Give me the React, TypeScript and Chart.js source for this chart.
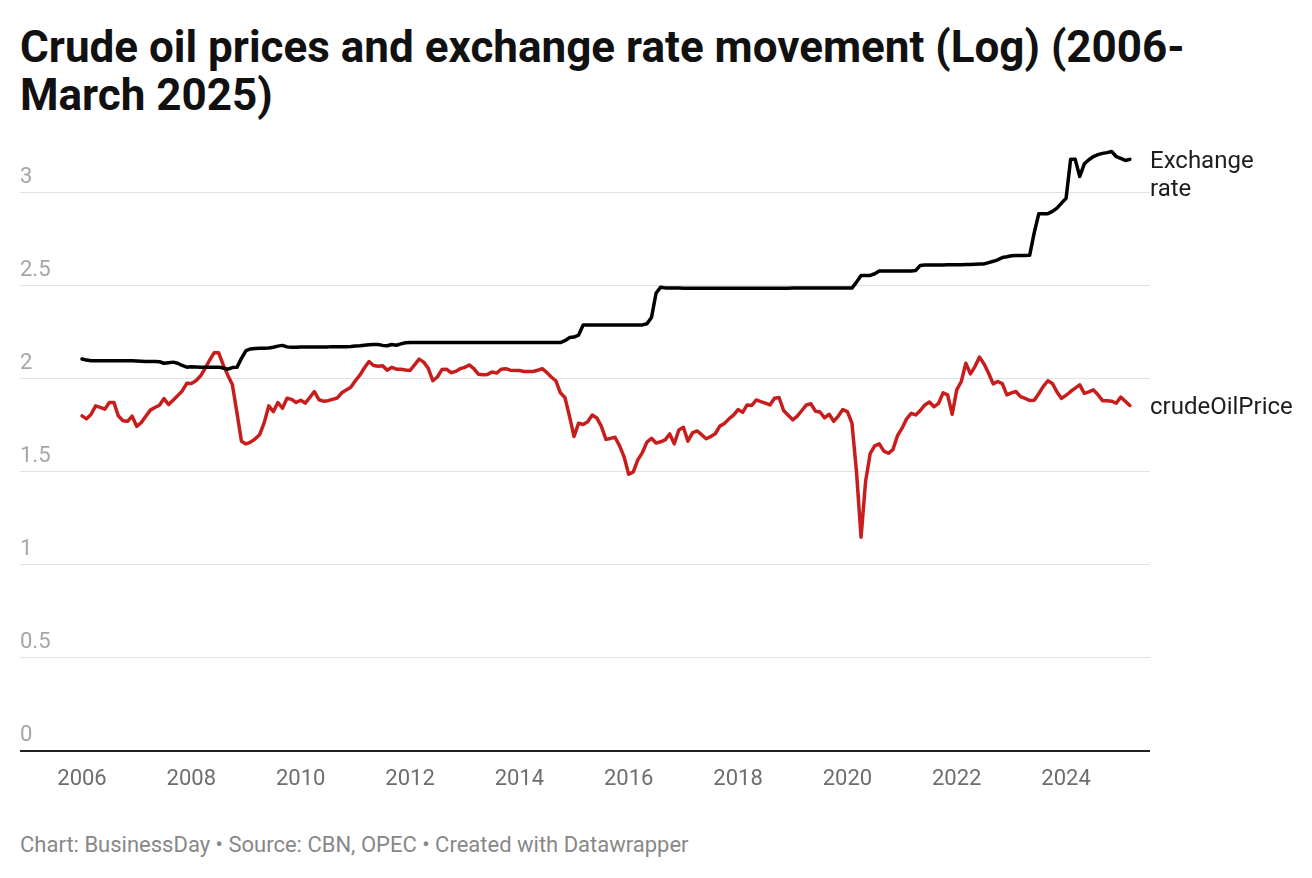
import React, { useEffect, useRef } from "react";
import { Chart, registerables } from "chart.js";

Chart.register(...registerables);

// ---- data -------------------------------------------------------------
const startYear = 2006; // first month: January 2006, monthly through March 2025
const xTickYears = [2006, 2008, 2010, 2012, 2014, 2016, 2018, 2020, 2022, 2024];
const yTickValues = [0, 0.5, 1, 1.5, 2, 2.5, 3];
const seriesNames = ["Exchange rate", "crudeOilPrice"];
const endLabelLines = [["Exchange", "rate"], ["crudeOilPrice"]];

// log10 of NGN/USD exchange rate, monthly
const exchangeRate = [
  2.107, 2.101, 2.098, 2.097, 2.097, 2.097, 2.097, 2.097, 2.097, 2.097, 2.097, 2.097, // 2006
  2.096, 2.095, 2.094, 2.094, 2.093, 2.092, 2.084, 2.087, 2.09, 2.084, 2.072, 2.063, // 2007
  2.065, 2.064, 2.063, 2.063, 2.063, 2.063, 2.063, 2.058, 2.052, 2.061, 2.062, 2.11, // 2008
  2.152, 2.161, 2.163, 2.164, 2.165, 2.166, 2.17, 2.176, 2.18, 2.172, 2.17, 2.17, // 2009
  2.171, 2.171, 2.171, 2.172, 2.172, 2.172, 2.172, 2.173, 2.173, 2.173, 2.173, 2.174, // 2010
  2.177, 2.178, 2.181, 2.184, 2.185, 2.185, 2.18, 2.178, 2.185, 2.181, 2.188, 2.194, // 2011
  2.195, 2.195, 2.195, 2.195, 2.195, 2.195, 2.195, 2.195, 2.195, 2.195, 2.195, 2.195, // 2012
  2.195, 2.195, 2.195, 2.195, 2.195, 2.195, 2.195, 2.195, 2.195, 2.195, 2.195, 2.195, // 2013
  2.195, 2.195, 2.195, 2.195, 2.195, 2.195, 2.195, 2.195, 2.195, 2.195, 2.205, 2.222, // 2014
  2.225, 2.235, 2.29, 2.29, 2.29, 2.29, 2.29, 2.29, 2.29, 2.29, 2.29, 2.29, // 2015
  2.29, 2.29, 2.29, 2.29, 2.296, 2.33, 2.46, 2.493, 2.489, 2.488, 2.488, 2.488, // 2016
  2.487, 2.487, 2.487, 2.487, 2.487, 2.487, 2.487, 2.487, 2.487, 2.487, 2.487, 2.487, // 2017
  2.487, 2.487, 2.487, 2.487, 2.487, 2.487, 2.487, 2.487, 2.487, 2.487, 2.487, 2.487, // 2018
  2.488, 2.488, 2.488, 2.488, 2.488, 2.488, 2.488, 2.488, 2.488, 2.488, 2.488, 2.488, // 2019
  2.488, 2.488, 2.52, 2.556, 2.556, 2.556, 2.565, 2.58, 2.58, 2.58, 2.58, 2.58, // 2020
  2.58, 2.58, 2.58, 2.583, 2.61, 2.612, 2.612, 2.612, 2.612, 2.612, 2.613, 2.613, // 2021
  2.614, 2.614, 2.615, 2.615, 2.616, 2.617, 2.618, 2.625, 2.632, 2.64, 2.652, 2.656, // 2022
  2.662, 2.663, 2.663, 2.663, 2.664, 2.785, 2.887, 2.887, 2.888, 2.9, 2.918, 2.945, // 2023
  2.97, 3.18, 3.18, 3.088, 3.156, 3.178, 3.195, 3.205, 3.212, 3.216, 3.222, 3.195, // 2024
  3.185, 3.174, 3.18, // 2025
];

// log10 of crude oil price (USD/barrel), monthly
const crudeOilPrice = [
  1.801, 1.785, 1.81, 1.855, 1.847, 1.837, 1.873, 1.873, 1.8, 1.775, 1.772, 1.8, // 2006
  1.745, 1.765, 1.799, 1.832, 1.846, 1.858, 1.894, 1.862, 1.885, 1.91, 1.935, 1.976, // 2007
  1.975, 1.99, 2.015, 2.055, 2.1, 2.14, 2.14, 2.075, 2.02, 1.97, 1.82, 1.665, // 2008
  1.65, 1.66, 1.678, 1.7, 1.765, 1.855, 1.824, 1.873, 1.842, 1.896, 1.89, 1.873, // 2009
  1.885, 1.87, 1.9, 1.932, 1.888, 1.88, 1.883, 1.89, 1.897, 1.925, 1.94, 1.955, // 2010
  1.99, 2.02, 2.06, 2.093, 2.072, 2.068, 2.07, 2.047, 2.062, 2.052, 2.052, 2.048, // 2011
  2.045, 2.075, 2.106, 2.09, 2.057, 1.99, 2.01, 2.05, 2.052, 2.033, 2.04, 2.055, // 2012
  2.062, 2.075, 2.055, 2.025, 2.022, 2.024, 2.037, 2.031, 2.052, 2.055, 2.047, 2.045, // 2013
  2.045, 2.04, 2.039, 2.04, 2.046, 2.055, 2.035, 2.01, 1.99, 1.925, 1.9, 1.8, // 2014
  1.69, 1.762, 1.755, 1.77, 1.806, 1.79, 1.745, 1.675, 1.68, 1.686, 1.64, 1.58, // 2015
  1.487, 1.5, 1.565, 1.604, 1.66, 1.681, 1.655, 1.662, 1.672, 1.704, 1.651, 1.725, // 2016
  1.74, 1.665, 1.71, 1.72, 1.7, 1.678, 1.69, 1.705, 1.746, 1.76, 1.785, 1.805, // 2017
  1.835, 1.82, 1.86, 1.857, 1.887, 1.878, 1.87, 1.86, 1.896, 1.9, 1.83, 1.805, // 2018
  1.78, 1.8, 1.83, 1.86, 1.866, 1.826, 1.822, 1.79, 1.81, 1.772, 1.8, 1.835, // 2019
  1.824, 1.762, 1.5, 1.149, 1.45, 1.598, 1.64, 1.651, 1.612, 1.6, 1.62, 1.695, // 2020
  1.735, 1.785, 1.815, 1.806, 1.83, 1.86, 1.876, 1.85, 1.868, 1.925, 1.914, 1.81, // 2021
  1.941, 1.986, 2.084, 2.027, 2.066, 2.117, 2.08, 2.03, 1.973, 1.986, 1.975, 1.914, // 2022
  1.925, 1.932, 1.905, 1.895, 1.884, 1.885, 1.92, 1.96, 1.99, 1.975, 1.93, 1.895, // 2023
  1.912, 1.932, 1.95, 1.968, 1.922, 1.93, 1.941, 1.915, 1.883, 1.883, 1.88, 1.869, // 2024
  1.902, 1.88, 1.857, // 2025
];

const seriesColors = ["#000000", "#c71e1d"];

// ---- component -------------------------------------------------------
const monthX = (i: number) => startYear + i / 12;

const yLabelPlugin = {
  id: "yLabels",
  afterDraw(chart: any) {
    const { ctx, chartArea, scales } = chart;
    ctx.save();
    ctx.font = "22px Roboto";
    ctx.fillStyle = "#a6a6a6";
    ctx.textAlign = "left";
    ctx.textBaseline = "alphabetic";
    yTickValues.forEach((v) => {
      const y = scales.y.getPixelForValue(v);
      ctx.fillText(String(v), chartArea.left, y - 10);
    });
    ctx.restore();
  },
};

const endLabelPlugin = {
  id: "endLabels",
  afterDatasetsDraw(chart: any) {
    const { ctx, chartArea } = chart;
    ctx.save();
    ctx.font = "24px Roboto";
    ctx.fillStyle = "#1d1d1d";
    ctx.textAlign = "left";
    ctx.textBaseline = "middle";
    chart.data.datasets.forEach((_: any, di: number) => {
      const meta = chart.getDatasetMeta(di);
      const last = meta.data[meta.data.length - 1];
      endLabelLines[di].forEach((line, li) => {
        ctx.fillText(line, chartArea.right, last.y + 3 + li * 28);
      });
    });
    ctx.restore();
  },
};

export default function App() {
  const canvasRef = useRef<HTMLCanvasElement | null>(null);

  useEffect(() => {
    if (!canvasRef.current) return;
    const chart = new Chart(canvasRef.current, {
      type: "line",
      data: {
        datasets: [exchangeRate, crudeOilPrice].map((vals, di) => ({
          label: seriesNames[di],
          data: vals.map((v, i) => ({ x: monthX(i), y: v })),
          borderColor: seriesColors[di],
          backgroundColor: seriesColors[di],
          borderWidth: 3.5,
          pointRadius: 0,
          tension: 0,
          borderJoinStyle: "round" as const,
          borderCapStyle: "round" as const,
        })),
      },
      options: {
        animation: false,
        responsive: false,
        maintainAspectRatio: false,
        layout: { padding: { top: 7, left: 12, right: 154, bottom: 0 } },
        plugins: {
          legend: { display: false },
          tooltip: { enabled: false },
          title: { display: false },
        },
        scales: {
          x: {
            type: "linear",
            min: 2004.866,
            max: 2025.535,
            grid: { display: false, drawTicks: false },
            border: { display: false },
            afterBuildTicks: (s: any) => {
              s.ticks = xTickYears.map((v) => ({ value: v }));
            },
            afterFit: (s: any) => {
              s.height = 59;
            },
            ticks: {
              padding: 15,
              color: "#6e6e6e",
              font: { family: "Roboto", size: 22 },
              maxRotation: 0,
              autoSkip: false,
              callback: (v: any) => String(v),
            },
          },
          y: {
            type: "linear",
            min: 0,
            max: 3.3,
            afterBuildTicks: (s: any) => {
              s.ticks = yTickValues.map((v) => ({ value: v }));
            },
            afterFit: (s: any) => {
              s.width = 0;
            },
            ticks: { display: false },
            border: { display: false },
            grid: {
              drawTicks: false,
              color: (c: any) => (c.tick && c.tick.value === 0 ? "#222222" : "#e2e2e2"),
              lineWidth: (c: any) => (c.tick && c.tick.value === 0 ? 2 : 1),
            },
          },
        },
      },
      plugins: [yLabelPlugin, endLabelPlugin],
    });
    return () => chart.destroy();
  }, []);

  return (
    <div style={{ position: "relative", width: 1296, height: 862, fontFamily: "Roboto, sans-serif" }}>
      <div
        style={{
          position: "absolute",
          left: 12,
          top: 15,
          width: 1290,
          fontSize: 44,
          fontWeight: 700,
          lineHeight: "48px",
          color: "#111",
          whiteSpace: "nowrap",
        }}
      >
        Crude oil prices and exchange rate movement (Log) (2006-
        <br />
        March 2025)
      </div>
      <canvas
        ref={canvasRef}
        width={1296}
        height={680}
        style={{ position: "absolute", left: 0, top: 122, width: 1296, height: 680 }}
      />
      <div
        style={{
          position: "absolute",
          left: 12,
          top: 825,
          fontSize: 22,
          lineHeight: "24px",
          color: "#888",
          whiteSpace: "nowrap",
        }}
      >
        Chart: BusinessDay • Source: CBN, OPEC • Created with Datawrapper
      </div>
    </div>
  );
}
